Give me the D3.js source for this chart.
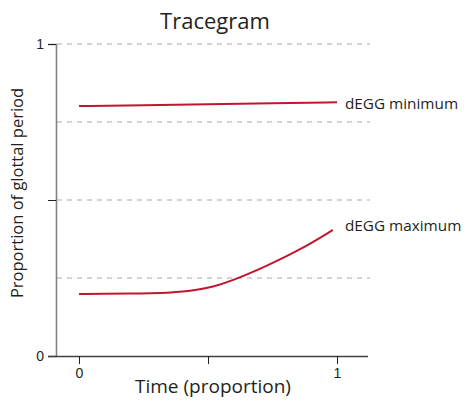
<!DOCTYPE html>
<html>
<head>
<meta charset="utf-8">
<script src="https://cdn.jsdelivr.net/npm/d3@7"></script>
<style>
  html, body { margin: 0; padding: 0; background: #fff; }
  svg { display: block; font-family: "Open Sans", "Noto Sans", sans-serif; }
</style>
</head>
<body>
<svg id="chart" width="466" height="402"></svg>
<script>
// Normalised time within the token (proportion)
const timeMin = [0, 0.25, 0.5, 0.75, 1.0];
const dEGGMinimum = [0.801, 0.804, 0.807, 0.810, 0.813];

const timeMax = [0, 0.1, 0.2, 0.326, 0.391, 0.457, 0.519, 0.585, 0.729, 0.857, 0.984];
const dEGGMaximum = [0.199, 0.199, 0.2, 0.202, 0.205, 0.212, 0.222, 0.238, 0.289, 0.340, 0.404];

const yTicks = [0, 0.5, 1];
const yTickLabels = ["0", "", "1"];
const yGrid = [0.25, 0.5, 0.75, 1];
const xTicks = [0, 0.5, 1];
const xTickLabels = ["0", "", "1"];

const svg = d3.select("#chart");
const textColor = "#231f20";
const lineColor = "#c1162f";

const x = d3.scaleLinear().domain([0, 1]).range([79, 337]);
const y = d3.scaleLinear().domain([0, 1]).range([356, 44]);

// dashed horizontal gridlines
svg.append("g").selectAll("line").data(yGrid).join("line")
  .attr("x1", 57).attr("x2", 370)
  .attr("y1", d => y(d)).attr("y2", d => y(d))
  .attr("stroke", "#a7a9ac").attr("stroke-width", 1)
  .attr("stroke-dasharray", "5,5");

// y axis
const yAxis = svg.append("g").attr("transform", "translate(56,0)")
  .call(d3.axisLeft(y).tickValues(yTicks).tickSize(8).tickFormat((d, i) => yTickLabels[i]));
yAxis.select(".domain").attr("stroke", "#808285").attr("stroke-width", 1.6);
yAxis.selectAll(".tick line").attr("stroke", "#231f20").attr("stroke-width", 1);
yAxis.selectAll(".tick text").attr("fill", textColor).attr("font-size", 14).attr("x", -12);

// x axis
const xAxis = svg.append("g").attr("transform", "translate(0,356)")
  .call(d3.axisBottom(x).tickValues(xTicks).tickSize(8).tickFormat((d, i) => xTickLabels[i]));
xAxis.select(".domain").attr("d", "M48,0.5H368").attr("stroke", "#414042").attr("stroke-width", 1.4);
xAxis.selectAll(".tick line").attr("stroke", "#231f20").attr("stroke-width", 1);
xAxis.selectAll(".tick text").attr("fill", textColor).attr("font-size", 14).attr("y", 12);

// traces (smoothed)
const line = d3.line().x(d => x(d[0])).y(d => y(d[1])).curve(d3.curveBasis);
svg.append("path")
  .datum(timeMin.map((t, i) => [t, dEGGMinimum[i]]))
  .attr("d", line).attr("fill", "none")
  .attr("stroke", lineColor).attr("stroke-width", 2);
svg.append("path")
  .datum(timeMax.map((t, i) => [t, dEGGMaximum[i]]))
  .attr("d", line).attr("fill", "none")
  .attr("stroke", lineColor).attr("stroke-width", 2);

// direct labels
svg.append("text").attr("x", 345).attr("y", y(0.81)).attr("dy", "0.35em")
  .attr("font-size", 15.3).attr("fill", textColor).text("dEGG minimum");
svg.append("text").attr("x", 345).attr("y", y(0.417)).attr("dy", "0.35em")
  .attr("font-size", 15.3).attr("fill", textColor).text("dEGG maximum");

// title and axis titles
svg.append("text").attr("x", 215).attr("y", 29).attr("text-anchor", "middle")
  .attr("font-size", 22).attr("fill", textColor).text("Tracegram");
svg.append("text").attr("x", 213).attr("y", 393).attr("text-anchor", "middle")
  .attr("font-size", 19).attr("fill", textColor).text("Time (proportion)");
svg.append("text").attr("transform", "translate(23,193) rotate(-90)")
  .attr("text-anchor", "middle")
  .attr("font-size", 16.5).attr("fill", textColor).text("Proportion of glottal period");
</script>
</body>
</html>
